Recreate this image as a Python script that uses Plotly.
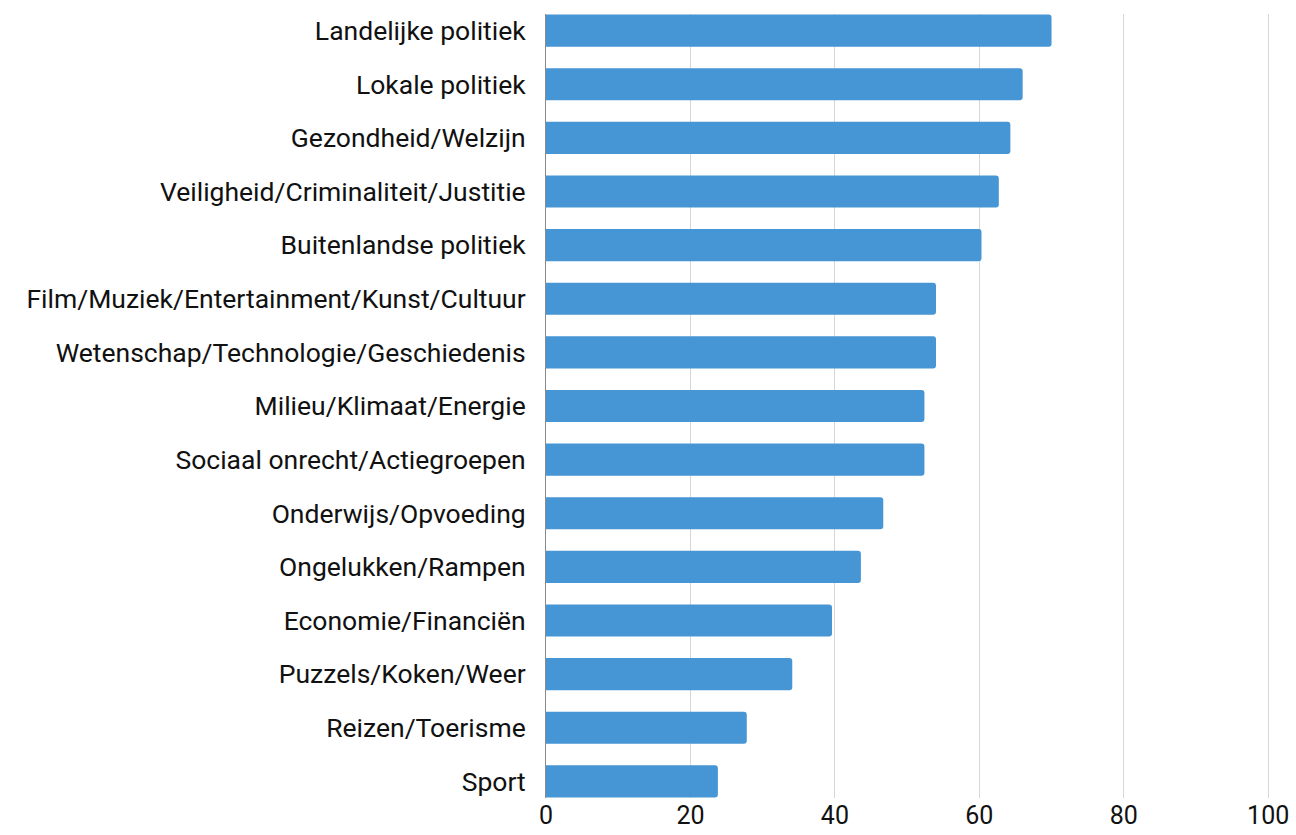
import plotly.graph_objects as go

# Topics, listed top to bottom
topics = [
    "Landelijke politiek",
    "Lokale politiek",
    "Gezondheid/Welzijn",
    "Veiligheid/Criminaliteit/Justitie",
    "Buitenlandse politiek",
    "Film/Muziek/Entertainment/Kunst/Cultuur",
    "Wetenschap/Technologie/Geschiedenis",
    "Milieu/Klimaat/Energie",
    "Sociaal onrecht/Actiegroepen",
    "Onderwijs/Opvoeding",
    "Ongelukken/Rampen",
    "Economie/Financiën",
    "Puzzels/Koken/Weer",
    "Reizen/Toerisme",
    "Sport",
]
scores = [70.0, 66.0, 64.3, 62.7, 60.3, 54.0, 54.0, 52.4, 52.4, 46.7, 43.6, 39.6, 34.1, 27.8, 23.8]
x_ticks = [0, 20, 40, 60, 80, 100]

fig = go.Figure(
    go.Bar(
        x=scores,
        y=topics,
        orientation="h",
        width=0.6,
        marker=dict(color="#4695D4", line=dict(width=0)),
        hoverinfo="x+y",
    )
)

fig.update_layout(
    width=1296,
    height=835,
    margin=dict(l=546, r=26, t=14, b=37, autoexpand=False),
    paper_bgcolor="white",
    plot_bgcolor="white",
    font=dict(family="Roboto", color="#111111"),
    showlegend=False,
    barcornerradius=3,
    xaxis=dict(
        range=[0, 100.25],
        tickvals=x_ticks,
        ticktext=[str(v) for v in x_ticks],
        tickfont=dict(size=25, color="#111111"),
        ticklabelstandoff=0,
        automargin=False,
        showgrid=True,
        gridcolor="#d6d6d6",
        gridwidth=1,
        zeroline=False,
        showline=False,
        ticks="",
        fixedrange=True,
    ),
    yaxis=dict(
        type="category",
        categoryorder="array",
        categoryarray=topics,
        range=[14.31, -0.31],
        tickfont=dict(size=26.5, color="#111111"),
        ticks="",
        ticklabelstandoff=14,
        automargin=False,
        showgrid=False,
        showline=True,
        linecolor="#8a8a8a",
        linewidth=1,
        zeroline=False,
        fixedrange=True,
    ),
)

fig.write_html("out.html")
